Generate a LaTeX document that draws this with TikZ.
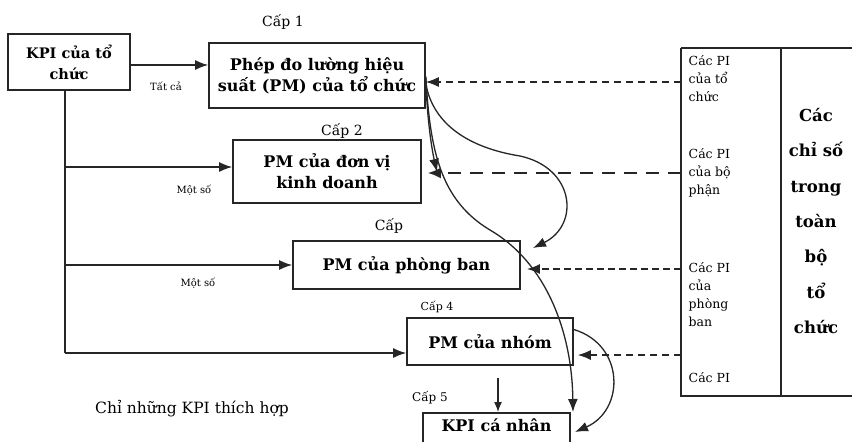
\documentclass[tikz,border=0pt]{standalone}
\usepackage{fontspec}
\setmainfont{DejaVu Serif}
\usetikzlibrary{arrows.meta,calc}
\begin{document}
\begin{tikzpicture}[x=1pt,y=-1pt,
  line width=1.4pt, draw=black!85,
  tip/.tip={Latex[length=13pt,width=10pt]},
  box/.style={draw, line width=1.6pt, inner sep=0pt, align=center, font=\fontsize{16}{21}\selectfont\bfseries},
  lvl/.style={font=\fontsize{13}{15}\selectfont, inner sep=0pt},
  small/.style={font=\fontsize{10}{12}\selectfont, inner sep=0pt},
  conn/.style={line width=1.5pt, -{tip}},
  curv/.style={line width=1.3pt, -{tip}},
  pitext/.style={font=\fontsize{12.5}{18}\selectfont, align=left, anchor=north west, inner sep=0pt},
  alltext/.style={font=\fontsize{16.5}{35.3}\selectfont\bfseries, align=center, inner sep=0pt}
]
\useasboundingbox (0,0) rectangle (852,442);
\fill[white] (0,0) rectangle (852,442);

% boxes
\node[box, minimum width=122pt, minimum height=56pt, font=\fontsize{14.5}{21}\selectfont\bfseries] (kpi) at (69,62) {KPI của tổ\\chức};
\node[box, minimum width=216pt, minimum height=65pt] (b1) at (317,75.5) {Phép đo lường hiệu\\suất (PM) của tổ chức};
\node[box, minimum width=188pt, minimum height=63pt] (b2) at (327,171.5) {PM của đơn vị\\kinh doanh};
\node[box, minimum width=227pt, minimum height=48pt] (b3) at (406.5,265) {PM của phòng ban};
\node[box, minimum width=166pt, minimum height=47pt] (b4) at (490,341.5) {PM của nhóm};
\node[box, minimum width=147pt, minimum height=44pt, anchor=north] (b5) at (496.5,412) {};
\node[font=\fontsize{16}{21}\selectfont\bfseries, inner sep=0pt] (b5t) at (496.5,425) {KPI cá nhân};

% level labels
\node[lvl, font=\fontsize{14}{16}\selectfont] (c1) at (283,22) {Cấp 1};
\node[lvl, font=\fontsize{14}{16}\selectfont] (c2) at (342,131) {Cấp 2};
\node[lvl, font=\fontsize{14}{16}\selectfont] (c3) at (389,226) {Cấp};
\node[lvl, font=\fontsize{11}{13}\selectfont] (c4) at (437,307) {Cấp 4};
\node[lvl, font=\fontsize{12}{14}\selectfont] (c5) at (430,398) {Cấp 5};
\node[font=\fontsize{15.5}{18}\selectfont, inner sep=0pt] (note) at (192,409) {Chỉ những KPI thích hợp};

% small labels
\node[small] (l1) at (166,86) {Tất cả};
\node[small] (l2) at (194,190) {Một số};
\node[small] (l3) at (198,283) {Một số};

% table
\draw[line width=1.6pt] (681,48) -- (870,48) (681,48) -- (681,396) -- (870,396) (781,48) -- (781,396);
\coordinate (t1) at (681,82);
\coordinate (t2) at (681,173);
\coordinate (t3) at (681,269);
\coordinate (t4) at (681,355);
\node[pitext] (p1) at (688,55) {Các PI\\của tổ\\chức};
\node[pitext] (p2) at (688,148) {Các PI\\của bộ\\phận};
\node[pitext] (p3) at (688,262) {Các PI\\của\\phòng\\ban};
\node[pitext] (p4) at (688,372) {Các PI};
\node[alltext] (all) at (816,221) {Các\\chỉ số\\trong\\toàn\\bộ\\tổ\\chức};

% connectors from KPI
\draw[conn] ([yshift=-3pt]kpi.east) -- ([yshift=-3pt]kpi.east -| b1.west);
\coordinate (kb) at (kpi.south -| 65,0);
\coordinate (v2) at (65,167);
\coordinate (v3) at (65,265);
\coordinate (v4) at (65,353);
\draw[line width=1.6pt] (kb) -- (v4);
\draw[conn] (v2) -- (v2 -| b2.west);
\draw[conn] (v3) -- (v3 -| b3.west);
\draw[conn] (v4) -- (v4 -| b4.west);

% dashed arrows
\draw[line width=1.4pt, dash pattern=on 7pt off 5pt, -{tip}] (t1) -- (t1 -| b1.east);
\draw[line width=2.4pt, dash pattern=on 13pt off 9pt, -{Latex[length=13pt,width=11pt]}] (t2) -- ($(t2 -| b2.east)+(6,0)$);
\draw[line width=1.8pt, dash pattern=on 7pt off 4pt, -{tip}] (t3) -- ($(t3 -| b3.east)+(6,0)$);
\draw[line width=1.3pt, dash pattern=on 7pt off 5pt, -{tip}] (t4) -- ($(t4 -| b4.east)+(4,0)$);

% down arrow 4 -> 5
\coordinate (d4) at ($(b4.south)+(8,12)$);
\draw[conn, line width=1.3pt, -{Latex[length=10pt,width=8pt]}] (d4) -- (d4 |- b5.north);

% curves
\draw[curv] ([yshift=-2pt]b1.east) .. controls (427,120) and (432,150) .. (437,172);
\draw[curv] ([yshift=-1pt]b1.east) .. controls (430,150) and (440,200) .. (490,230)
   .. controls (545,262) and (572,330) .. (573,412);
\draw[curv] ([yshift=-8pt]b1.east) .. controls (433,125) and (470,148) .. (520,156)
   .. controls (575,168) and (580,225) .. (533,248);
\draw[curv] ([yshift=12pt]b4.east) .. controls (625,345) and (625,410) .. (575,432);
\end{tikzpicture}
\end{document}
